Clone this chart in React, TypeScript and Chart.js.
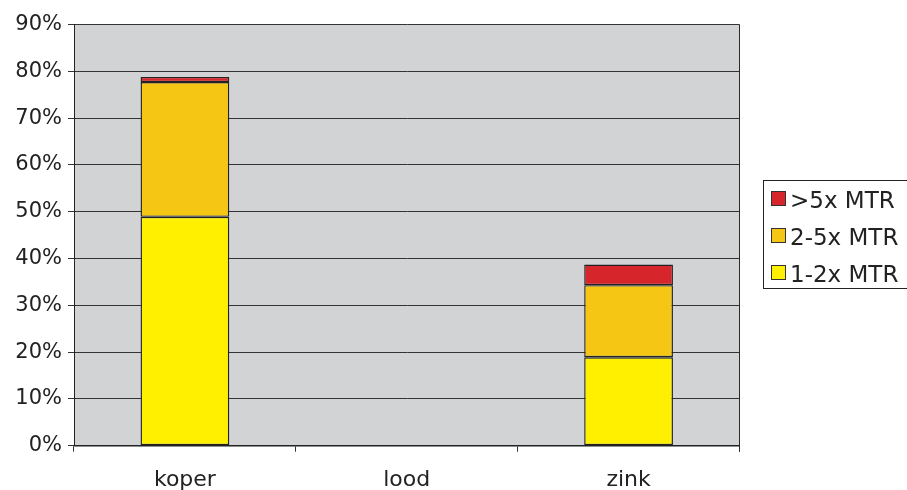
import React, { useEffect, useRef } from "react";
import { Chart, registerables } from "chart.js";

Chart.register(...registerables);

const categories = ["koper", "lood", "zink"];
const seriesLabels = ["1-2x MTR", "2-5x MTR", ">5x MTR"];
const values12 = [48.9, 0, 18.9];
const values25 = [28.8, 0, 15.4];
const values5 = [1.1, 0, 4.4];
const yTickValues = [0, 10, 20, 30, 40, 50, 60, 70, 80, 90];

const COLORS = ["#FFF000", "#F5C614", "#D6262B"];
const FONT = "'DejaVu Sans', sans-serif";

export default function App() {
  const ref = useRef<HTMLCanvasElement | null>(null);

  useEffect(() => {
    if (!ref.current) return;

    const bgPlugin = {
      id: "bg",
      beforeDraw(chart: any) {
        const { ctx, chartArea: a } = chart;
        ctx.save();
        ctx.fillStyle = "#D2D3D5";
        ctx.fillRect(a.left, a.top, a.right - a.left, a.bottom - a.top);
        ctx.restore();
      },
      afterDatasetsDraw(chart: any) {
        const { ctx, chartArea: a } = chart;
        ctx.save();
        ctx.strokeStyle = "#2a2a2a";
        ctx.lineWidth = 1;
        ctx.beginPath();
        ctx.moveTo(Math.round(a.right) - 0.5, a.top);
        ctx.lineTo(Math.round(a.right) - 0.5, a.bottom + 6);
        ctx.stroke();
        ctx.restore();
      },
    };

    const legendPlugin = {
      id: "customLegend",
      afterDraw(chart: any) {
        const ctx = chart.ctx;
        ctx.save();
        ctx.strokeStyle = "#222";
        ctx.lineWidth = 1;
        ctx.strokeRect(763.5, 180.5, 200, 108);
        const ds = chart.data.datasets.slice().reverse();
        ds.forEach((d: any, i: number) => {
          const y = 191.5 + i * 37;
          ctx.fillStyle = d.backgroundColor;
          ctx.fillRect(771.5, y, 14, 14);
          ctx.strokeStyle = "#333";
          ctx.strokeRect(771.5, y, 14, 14);
          ctx.fillStyle = "#222";
          ctx.font = `23px ${FONT}`;
          ctx.textBaseline = "alphabetic";
          ctx.textAlign = "left";
          ctx.fillText(d.label, 790, 207.5 + i * 37);
        });
        ctx.restore();
      },
    };

    const mk = (label: string, data: number[], color: string) => ({
      label,
      data,
      backgroundColor: color,
      borderColor: "#222",
      borderWidth: (c: any) => (c.raw ? 1.4 : 0),
      borderSkipped: false,
      barPercentage: 0.4,
      categoryPercentage: 1,
    });

    const chart = new Chart(ref.current, {
      type: "bar",
      data: {
        labels: categories,
        datasets: [
          mk(seriesLabels[0], values12, COLORS[0]),
          mk(seriesLabels[1], values25, COLORS[1]),
          mk(seriesLabels[2], values5, COLORS[2]),
        ],
      },
      options: {
        responsive: false,
        animation: false,
        layout: { padding: { top: 24.5, right: 167.5, left: 0, bottom: 0 } },
        plugins: { legend: { display: false }, tooltip: { enabled: false } },
        scales: {
          x: {
            stacked: true,
            afterFit: (s: any) => {
              s.height = 44.3;
            },
            grid: {
              offset: true,
              drawOnChartArea: false,
              drawTicks: true,
              tickLength: 6,
              color: "#333",
            },
            border: { display: true, color: "#222", width: 1.5 },
            ticks: {
              color: "#222",
              font: { family: FONT, size: 22 },
              padding: 15,
              maxRotation: 0,
            },
          },
          y: {
            stacked: true,
            min: 0,
            max: 90,
            afterFit: (s: any) => {
              s.width = 74;
            },
            afterBuildTicks: (s: any) => {
              s.ticks = yTickValues.map((v) => ({ value: v }));
            },
            grid: {
              color: "#333",
              lineWidth: 1,
              drawTicks: true,
              tickLength: 6,
            },
            border: { display: true, color: "#222", width: 1 },
            ticks: {
              color: "#222",
              font: { family: FONT, size: 21 },
              padding: 6,
              callback: (v: any) => `${v}%`,
            },
          },
        },
      },
      plugins: [bgPlugin, legendPlugin],
    });

    return () => chart.destroy();
  }, []);

  return (
    <div style={{ position: "absolute", left: 0, top: 0, width: 907, height: 490, background: "#fff" }}>
      <canvas ref={ref} width={907} height={490} style={{ display: "block" }} />
    </div>
  );
}
